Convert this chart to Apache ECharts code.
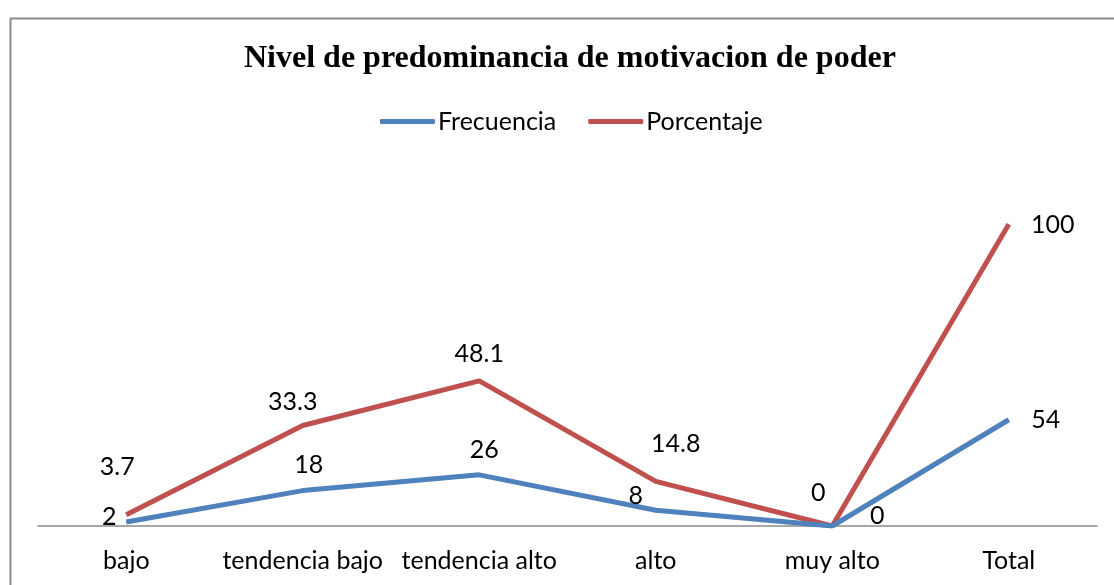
<!DOCTYPE html>
<html>
<head>
<meta charset="utf-8">
<script src="https://cdn.jsdelivr.net/npm/echarts@6/dist/echarts.min.js"></script>
<style>
  html, body { margin: 0; padding: 0; background: #fff; }
  #chart { width: 1114px; height: 585px; }
</style>
</head>
<body>
<div id="chart"></div>
<script>
var categories = ['bajo', 'tendencia bajo', 'tendencia alto', 'alto', 'muy alto', 'Total'];
var frecuencia = [2, 18, 26, 8, 0, 54];
var porcentaje = [3.7, 33.3, 48.1, 14.8, 0, 100];

// label offsets (px) relative to each point, as placed in the original
var frecOffsets = [[-17, -5], [6, -26], [5, -25], [-20, -14], [45, -10], [37, 0]];
var porcOffsets = [[-9, -48], [-10, -24], [0, -27], [20, -37], [-14, -33], [44, 1]];

var labelFont = 'Lato';
var fontSize = 25;
var blue = '#4F81BD';
var red = '#C0504D';

function withLabels(values, offsets) {
    return values.map(function (v, i) {
        return { value: v, label: { offset: offsets[i] } };
    });
}

var myChart = echarts.init(document.getElementById('chart'));
var option = {
    backgroundColor: '#fff',
    animation: false,
    graphic: [{
        type: 'rect',
        left: 8,
        top: 16,
        shape: { width: 1130, height: 600 },
        style: { fill: 'none', stroke: '#8a8a8a', lineWidth: 2 },
        silent: true
    }],
    title: {
        text: 'Nivel de predominancia de motivacion de poder',
        left: 239,
        top: 38,
        textStyle: {
            fontFamily: 'Liberation Serif',
            fontWeight: 'bold',
            fontSize: 32,
            color: '#000'
        }
    },
    legend: {
        top: 104,
        left: 375,
        itemWidth: 55,
        itemHeight: 5,
        itemGap: 32,
        icon: 'roundRect',
        textStyle: { fontFamily: labelFont, fontSize: fontSize, color: '#000', padding: [0, 0, 0, -2] },
        data: ['Frecuencia', 'Porcentaje']
    },
    grid: {
        left: 38,
        right: 17,
        top: 164,
        bottom: 59,
        containLabel: false
    },
    xAxis: {
        type: 'category',
        data: categories,
        boundaryGap: true,
        axisLine: { lineStyle: { color: '#8a8a8a', width: 1.5 } },
        axisTick: { show: false },
        axisLabel: {
            interval: 0,
            margin: 22,
            fontFamily: labelFont,
            fontSize: fontSize,
            color: '#000'
        }
    },
    yAxis: [
        { type: 'value', min: 0, max: 120, show: false, splitLine: { show: false } },
        { type: 'value', min: 0, max: 184, show: false, splitLine: { show: false } }
    ],
    series: [
        {
            name: 'Porcentaje',
            type: 'line',
            yAxisIndex: 0,
            data: withLabels(porcentaje, porcOffsets),
            symbol: 'circle',
            symbolSize: 1,
            lineStyle: { color: red, width: 5 },
            itemStyle: { color: red },
            label: {
                show: true,
                position: 'inside',
                fontFamily: labelFont,
                fontSize: fontSize,
                color: '#000'
            }
        },
        {
            name: 'Frecuencia',
            type: 'line',
            yAxisIndex: 1,
            data: withLabels(frecuencia, frecOffsets),
            symbol: 'circle',
            symbolSize: 1,
            lineStyle: { color: blue, width: 5 },
            itemStyle: { color: blue },
            label: {
                show: true,
                position: 'inside',
                fontFamily: labelFont,
                fontSize: fontSize,
                color: '#000'
            }
        }
    ]
};
myChart.setOption(option);
</script>
</body>
</html>
